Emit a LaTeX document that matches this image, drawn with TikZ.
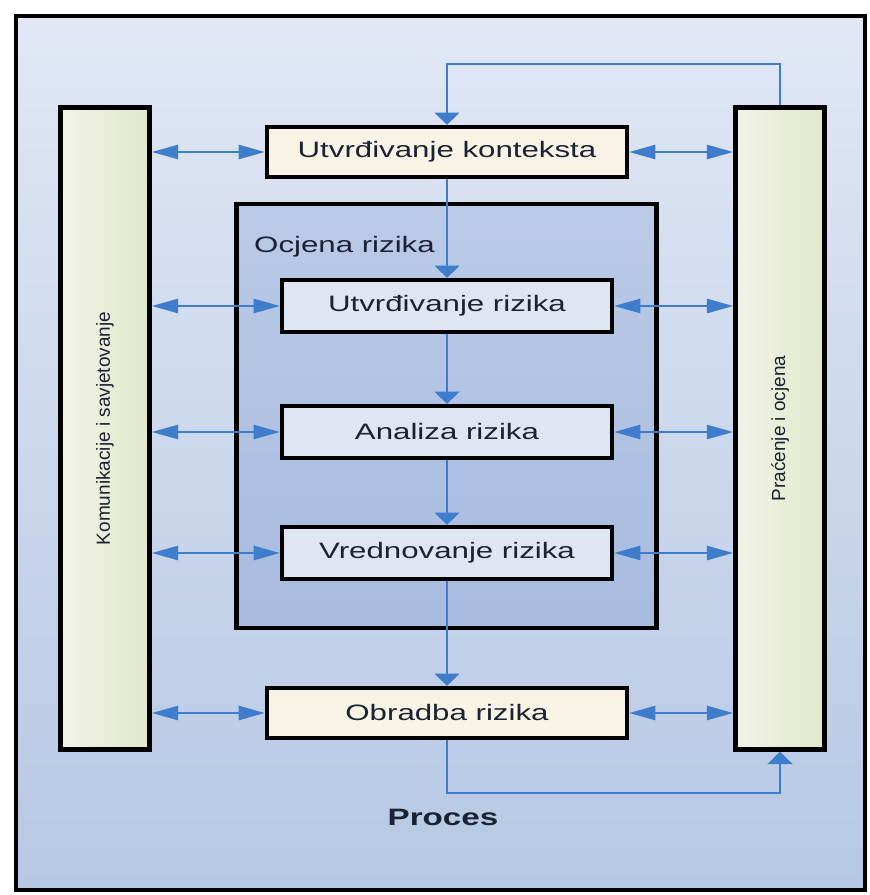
\documentclass[tikz,border=0pt]{standalone}
\usepackage{fontspec}
\usepackage{graphicx}
\setmainfont{Liberation Sans}
\newfontfamily\widefont[FakeStretch=1.4]{Liberation Sans}
\usetikzlibrary{arrows.meta}

\definecolor{flowblue}{HTML}{3D7DCB}
\definecolor{bgtop}{HTML}{E1E7F5}
\definecolor{bgbot}{HTML}{B6C8E4}
\definecolor{innertop}{HTML}{BACAE7}
\definecolor{innerbot}{HTML}{A8BBDF}
\definecolor{barlight}{HTML}{F1F3E8}
\definecolor{bardark}{HTML}{E1E8CA}
\definecolor{creamfill}{HTML}{F7F4E6}
\definecolor{subfill}{HTML}{DFE5F3}
\definecolor{inkdark}{HTML}{1B2233}

\begin{document}
\begin{tikzpicture}[x=0.02cm, y=-0.02cm,
  stepbox/.style={draw=black, line width=2.4pt, fill=creamfill, text=inkdark,
    minimum width=7.2cm, minimum height=1cm, inner sep=0pt,
    font=\widefont\fontsize{12.7}{14}\selectfont},
  subbox/.style={stepbox, fill=subfill, minimum width=6.6cm, minimum height=1.04cm},
  sidebar/.style={draw=black, line width=2.6pt, left color=barlight, right color=bardark,
    minimum width=1.78cm, minimum height=12.84cm, inner sep=0pt, text=inkdark,
    font=\fontsize{10.8}{12}\selectfont},
  hlink/.style={draw=flowblue, line width=1.4pt,
    {Triangle[length=15pt,width=8pt]}-{Triangle[length=15pt,width=8pt]}},
  vlink/.style={draw=flowblue, line width=1.4pt, -{Triangle[length=7pt,width=14pt]}}]

\useasboundingbox (0,0) rectangle (869,895);
\draw [line width=2.4pt, top color=bgtop, bottom color=bgbot] (16,16) rectangle (865,890);

\node [draw=black, line width=2.6pt, top color=innertop, bottom color=innerbot,
  minimum width=8.4cm, minimum height=8.48cm] (ocjena) at (446.5,416) {};
\node [anchor=west, text=inkdark, font=\widefont\fontsize{12.7}{14}\selectfont]
  (ocjenalbl) at (248,247) {Ocjena rizika};

\node [sidebar] (kom) at (105,428.5) {\rotatebox{90}{Komunikacije i savjetovanje}};
\node [sidebar] (prac) at (780,428.5) {\rotatebox{90}{Praćenje i ocjena}};

\node [stepbox] (kont) at (447,152) {Utvrđivanje konteksta};
\node [subbox] (utv) at (447,306) {Utvrđivanje rizika};
\node [subbox] (anal) at (447,432) {Analiza rizika};
\node [subbox] (vred) at (447,553) {Vrednovanje rizika};
\node [stepbox] (obr) at (447,713) {Obradba rizika};

\node [text=inkdark, font=\widefont\bfseries\fontsize{13.5}{15}\selectfont] (proces) at (443,817) {Proces};

\coordinate (topturn) at (447,64);
\coordinate (botturn) at (447,793);

\foreach \b in {kont,utv,anal,vred,obr} {
  \draw [hlink] (kom.east |- \b) -- (\b.west);
  \draw [hlink] (\b.east) -- (prac.west |- \b);
}

\draw [vlink] (kont) -- (utv);
\draw [vlink] (utv) -- (anal);
\draw [vlink] (anal) -- (vred);
\draw [vlink] (vred) -- (obr);
\draw [vlink] (prac.north) -- (prac.north |- topturn) -| (kont.north);
\draw [vlink] (obr.south) -- (obr.south |- botturn) -| (prac.south);
\end{tikzpicture}
\end{document}
